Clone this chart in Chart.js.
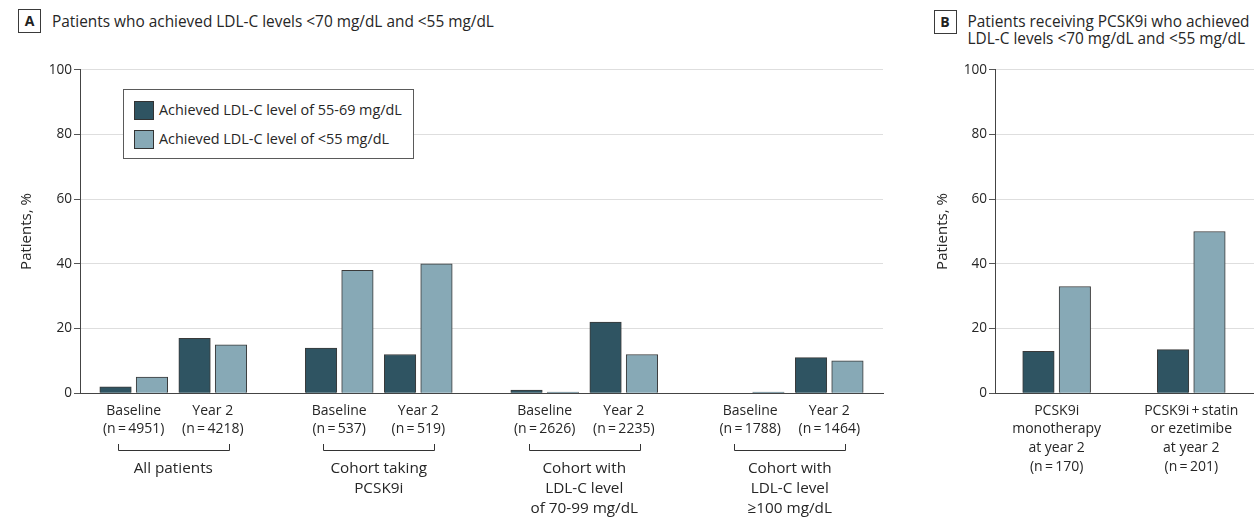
<!DOCTYPE html>
<html><head><meta charset="utf-8">
<script src="https://cdn.jsdelivr.net/npm/chart.js@4.4.1/dist/chart.umd.min.js"></script>
<style>
html,body{margin:0;padding:0;background:#fff;}
body{width:1254px;height:519px;position:relative;overflow:hidden;font-family:'Open Sans',sans-serif;color:#262626;}
.panel{position:absolute;top:0;height:519px;}
.tag{position:absolute;box-sizing:border-box;width:23px;height:24px;border:1px solid #3a3a3a;font-weight:700;font-size:14px;line-height:22px;text-align:center;color:#222;}
.head{position:absolute;font-size:15.4px;line-height:17.7px;white-space:nowrap;color:#262626;}
.legend{position:absolute;box-sizing:border-box;border:1px solid #5a5a5a;background:#fff;}
.legend .sw{position:absolute;box-sizing:border-box;width:19.5px;height:18.5px;border:1px solid #333;}
.legend .lb{position:absolute;font-size:14.4px;line-height:20px;white-space:nowrap;color:#262626;}
</style>
</head><body>

<div class="tag" style="left:18px;top:9px;">A</div>
<div class="head" style="left:52px;top:12.5px;">Patients who achieved LDL-C levels &lt;70 mg/dL and &lt;55 mg/dL</div>
<div class="tag" style="left:933.5px;top:9.5px;">B</div>
<div class="head" style="left:967.5px;top:12.5px;">Patients receiving PCSK9i who achieved<br>LDL-C levels &lt;70 mg/dL and &lt;55 mg/dL</div>

<div class="panel" style="left:0;width:890px;"><canvas id="chartA"></canvas></div>
<div class="panel" style="left:915px;width:339px;"><canvas id="chartB"></canvas></div>
<div class="legend" id="legend" style="left:123px;top:89px;width:290.5px;height:69.5px;"></div>

<script>
// ---- Panel A: all patients and cohorts, baseline vs year 2 ----
const seriesNames = ["Achieved LDL-C level of 55-69 mg/dL", "Achieved LDL-C level of <55 mg/dL"];
const timepoints = ["Baseline", "Year 2"];
const cohortNames = [
  ["All patients"],
  ["Cohort taking", "PCSK9i"],
  ["Cohort with", "LDL-C level", "of 70-99 mg/dL"],
  ["Cohort with", "LDL-C level", "\u2265100 mg/dL"]
];
const cohortSizes = [4951, 4218, 537, 519, 2626, 2235, 1788, 1464];
const ldl55to69 = [2, 17, 14, 12, 1, 22, 0, 11];
const ldlBelow55 = [5, 15, 38, 40, 0.4, 12, 0.4, 10];

// ---- Panel B: PCSK9i users at year 2 by therapy ----
const therapyNames = [
  ["PCSK9i", "monotherapy", "at year 2"],
  ["PCSK9i\u2009+\u2009statin", "or ezetimibe", "at year 2"]
];
const therapySizes = [170, 201];
const therapy55to69 = [13, 13.5];
const therapyBelow55 = [33, 50];

const yTicks = [0, 20, 40, 60, 80, 100];

// colours
const DARK = "#2f5462";
const LIGHT = "#87a9b6";
const EDGE = "#3a3a3a";
const INK = "#262626";

Chart.defaults.font.family = "'Open Sans', sans-serif";
Chart.defaults.color = INK;

const nLabel = n => "(n\u2009=\u2009" + n + ")";

// x positions: two timepoints per cohort, cohorts separated by an extra gap
const GROUP_GAP = 1.6;
const posA = cohortSizes.map((_, i) => Math.floor(i / 2) * (1 + GROUP_GAP) + (i % 2));
const ticksA = posA.map((_, i) => [timepoints[i % 2], nLabel(cohortSizes[i])]);

const posB = therapyNames.map((_, i) => i);
const ticksB = therapyNames.map((lines, i) => [...lines, nLabel(therapySizes[i])]);

function makeChart(canvas, cfg) {
  const mk = (vals, name, color) => ({
    label: name,
    data: cfg.pos.map((x, i) => ({ x, y: vals[i] })),
    backgroundColor: color,
    borderColor: EDGE,
    borderWidth: 1,
    barThickness: 36.4,
    maxBarThickness: 31.5
  });
  return new Chart(canvas, {
    type: "bar",
    data: {
      datasets: [mk(cfg.dark, seriesNames[0], DARK), mk(cfg.light, seriesNames[1], LIGHT)]
    },
    options: {
      responsive: true,
      maintainAspectRatio: false,
      animation: false,
      events: [],
      layout: { padding: { top: 69.7, right: cfg.rightPad, left: 0, bottom: 0 } },
      plugins: { legend: { display: false }, tooltip: { enabled: false } },
      scales: {
        x: {
          type: "linear",
          min: cfg.xMin,
          max: cfg.xMax,
          offset: false,
          grid: { display: false, drawTicks: false, offset: false },
          border: { display: true, color: "#444", width: 1 },
          afterBuildTicks: s => { s.ticks = cfg.pos.map(v => ({ value: v })); },
          afterFit: s => { s.height = 519 - 393.3; },
          ticks: {
            autoSkip: false,
            maxRotation: 0,
            minRotation: 0,
            padding: cfg.tickPad,
            color: INK,
            font: { size: 14, lineHeight: cfg.tickLH / 14 },
            callback: (v, i) => cfg.ticks[i]
          }
        },
        y: {
          min: 0,
          max: 100,
          afterBuildTicks: s => { s.ticks = yTicks.map(v => ({ value: v })); },
          afterFit: s => { s.width = 80; },
          grid: {
            color: c => (c.tick && c.tick.value === 0) ? "rgba(0,0,0,0)" : "#dedede",
            lineWidth: 1,
            drawTicks: true,
            tickLength: 6,
            tickColor: "#555"
          },
          border: { display: true, color: "#444", width: 1 },
          ticks: { padding: 2, color: INK, font: { size: 13.6 } },
          title: {
            display: true,
            text: "Patients, %",
            color: INK,
            font: { size: 15, lineHeight: 1.2 },
            padding: { top: cfg.titlePad, bottom: 0 }
          }
        }
      }
    },
    plugins: cfg.plugins || []
  });
}

// brackets and cohort names under each pair of timepoints
const cohortBrackets = {
  id: "cohortBrackets",
  afterDraw(chart) {
    const { ctx } = chart;
    const x = chart.scales.x;
    ctx.save();
    ctx.strokeStyle = "#333";
    ctx.lineWidth = 1;
    ctx.fillStyle = INK;
    ctx.font = "15.3px 'Open Sans', sans-serif";
    ctx.textAlign = "center";
    ctx.textBaseline = "middle";
    cohortNames.forEach((lines, g) => {
      const p0 = x.getPixelForValue(posA[2 * g]);
      const p1 = x.getPixelForValue(posA[2 * g + 1]);
      const l = Math.round(p0 - 16) + 0.5, r = Math.round(p1 + 16) + 0.5;
      ctx.beginPath();
      ctx.moveTo(l, 444);
      ctx.lineTo(l, 450.5);
      ctx.lineTo(r, 450.5);
      ctx.lineTo(r, 444);
      ctx.stroke();
      lines.forEach((t, k) => ctx.fillText(t, (p0 + p1) / 2, 468.3 + k * 20));
    });
    ctx.restore();
  }
};

const chartA = makeChart(document.getElementById("chartA"), {
  pos: posA, ticks: ticksA, dark: ldl55to69, light: ldlBelow55,
  xMin: -0.68, xMax: 9.48, rightPad: 7, tickPad: 9.2, tickLH: 18, titlePad: 18,
  plugins: [cohortBrackets]
});

const chartB = makeChart(document.getElementById("chartB"), {
  pos: posB, ticks: ticksB, dark: therapy55to69, light: therapyBelow55,
  xMin: -0.458, xMax: 1.466, rightPad: 0, tickPad: 8.2, tickLH: 18.6, titlePad: 19
});

// legend box built from the panel A datasets
const legend = document.getElementById("legend");
chartA.data.datasets.forEach((ds, i) => {
  const sw = document.createElement("div");
  sw.className = "sw";
  sw.style.left = "10px";
  sw.style.top = (11 + i * 29) + "px";
  sw.style.background = ds.backgroundColor;
  legend.appendChild(sw);
  const lb = document.createElement("div");
  lb.className = "lb";
  lb.style.left = "35px";
  lb.style.top = (10.3 + i * 29) + "px";
  lb.textContent = ds.label;
  legend.appendChild(lb);
});
</script>
</body></html>
